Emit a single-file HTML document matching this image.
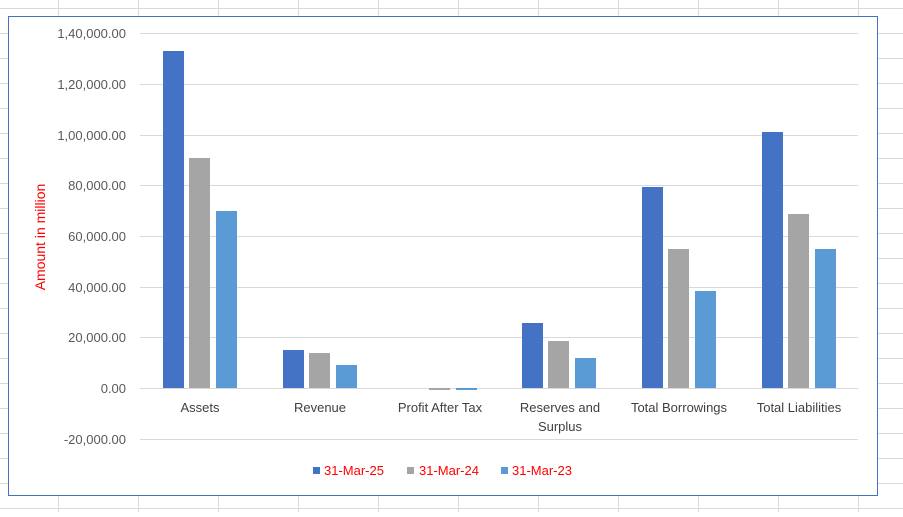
<!DOCTYPE html><html><head><style>body{margin:0;width:903px;height:512px;overflow:hidden;background:#fff;font-family:"Liberation Sans",Arial,sans-serif}</style></head><body>
<svg width="903" height="512" xmlns="http://www.w3.org/2000/svg" font-family="Liberation Sans, Arial, sans-serif">
<g stroke="#d9d9d9" stroke-width="1">
<line x1="0" y1="8.5" x2="903" y2="8.5"/><line x1="0" y1="33.5" x2="903" y2="33.5"/><line x1="0" y1="58.5" x2="903" y2="58.5"/><line x1="0" y1="83.5" x2="903" y2="83.5"/><line x1="0" y1="108.5" x2="903" y2="108.5"/><line x1="0" y1="133.5" x2="903" y2="133.5"/><line x1="0" y1="158.5" x2="903" y2="158.5"/><line x1="0" y1="183.5" x2="903" y2="183.5"/><line x1="0" y1="208.5" x2="903" y2="208.5"/><line x1="0" y1="233.5" x2="903" y2="233.5"/><line x1="0" y1="258.5" x2="903" y2="258.5"/><line x1="0" y1="283.5" x2="903" y2="283.5"/><line x1="0" y1="308.5" x2="903" y2="308.5"/><line x1="0" y1="333.5" x2="903" y2="333.5"/><line x1="0" y1="358.5" x2="903" y2="358.5"/><line x1="0" y1="383.5" x2="903" y2="383.5"/><line x1="0" y1="408.5" x2="903" y2="408.5"/><line x1="0" y1="433.5" x2="903" y2="433.5"/><line x1="0" y1="458.5" x2="903" y2="458.5"/><line x1="0" y1="483.5" x2="903" y2="483.5"/><line x1="0" y1="508.5" x2="903" y2="508.5"/>
<line x1="58.5" y1="0" x2="58.5" y2="512"/><line x1="138.5" y1="0" x2="138.5" y2="512"/><line x1="218.5" y1="0" x2="218.5" y2="512"/><line x1="298.5" y1="0" x2="298.5" y2="512"/><line x1="378.5" y1="0" x2="378.5" y2="512"/><line x1="458.5" y1="0" x2="458.5" y2="512"/><line x1="538.5" y1="0" x2="538.5" y2="512"/><line x1="618.5" y1="0" x2="618.5" y2="512"/><line x1="698.5" y1="0" x2="698.5" y2="512"/><line x1="778.5" y1="0" x2="778.5" y2="512"/><line x1="858.5" y1="0" x2="858.5" y2="512"/>
</g>
<rect x="8.5" y="16.5" width="869" height="479" fill="#fff" stroke="#4472c4" stroke-width="1"/>
<g stroke="#d9d9d9" stroke-width="1">
<line x1="140" y1="33.5" x2="858" y2="33.5"/><line x1="140" y1="84.5" x2="858" y2="84.5"/><line x1="140" y1="135.5" x2="858" y2="135.5"/><line x1="140" y1="185.5" x2="858" y2="185.5"/><line x1="140" y1="236.5" x2="858" y2="236.5"/><line x1="140" y1="287.5" x2="858" y2="287.5"/><line x1="140" y1="337.5" x2="858" y2="337.5"/><line x1="140" y1="388.5" x2="858" y2="388.5"/><line x1="140" y1="439.5" x2="858" y2="439.5"/>
</g>
<g font-size="13" fill="#595959" text-anchor="end">
<text x="126" y="38">1,40,000.00</text><text x="126" y="89">1,20,000.00</text><text x="126" y="140">1,00,000.00</text><text x="126" y="190">80,000.00</text><text x="126" y="241">60,000.00</text><text x="126" y="292">40,000.00</text><text x="126" y="342">20,000.00</text><text x="126" y="393">0.00</text><text x="126" y="444">-20,000.00</text>
</g>
<text transform="translate(45,237) rotate(-90)" font-size="14" fill="#ff0000" text-anchor="middle">Amount in million</text>
<g fill="#4472c4">
<rect x="163" y="51" width="21" height="337"/><rect x="283" y="350" width="21" height="38"/><rect x="522" y="323" width="21" height="65"/><rect x="642" y="187" width="21" height="201"/><rect x="762" y="132" width="21" height="256"/>
</g>
<g fill="#a5a5a5">
<rect x="189" y="158" width="21" height="230"/><rect x="309" y="353" width="21" height="35"/><rect x="429" y="388" width="21" height="2"/><rect x="548" y="341" width="21" height="47"/><rect x="668" y="249" width="21" height="139"/><rect x="788" y="214" width="21" height="174"/>
</g>
<g fill="#5b9bd5">
<rect x="216" y="211" width="21" height="177"/><rect x="336" y="365" width="21" height="23"/><rect x="456" y="388" width="21" height="2"/><rect x="575" y="358" width="21" height="30"/><rect x="695" y="291" width="21" height="97"/><rect x="815" y="249" width="21" height="139"/>
</g>
<g font-size="13" fill="#404040" text-anchor="middle">
<text x="200" y="412">Assets</text><text x="320" y="412">Revenue</text><text x="440" y="412">Profit After Tax</text><text x="560" y="412">Reserves and</text><text x="560" y="431">Surplus</text><text x="679" y="412">Total Borrowings</text><text x="799" y="412">Total Liabilities</text>
</g>
<g font-size="13" fill="#ff0000">
<rect x="313" y="467" width="7" height="7" fill="#4472c4"/><text x="324" y="475">31-Mar-25</text>
<rect x="407" y="467" width="7" height="7" fill="#a5a5a5"/><text x="419" y="475">31-Mar-24</text>
<rect x="501" y="467" width="7" height="7" fill="#5b9bd5"/><text x="512" y="475">31-Mar-23</text>
</g>
</svg>
</body></html>
